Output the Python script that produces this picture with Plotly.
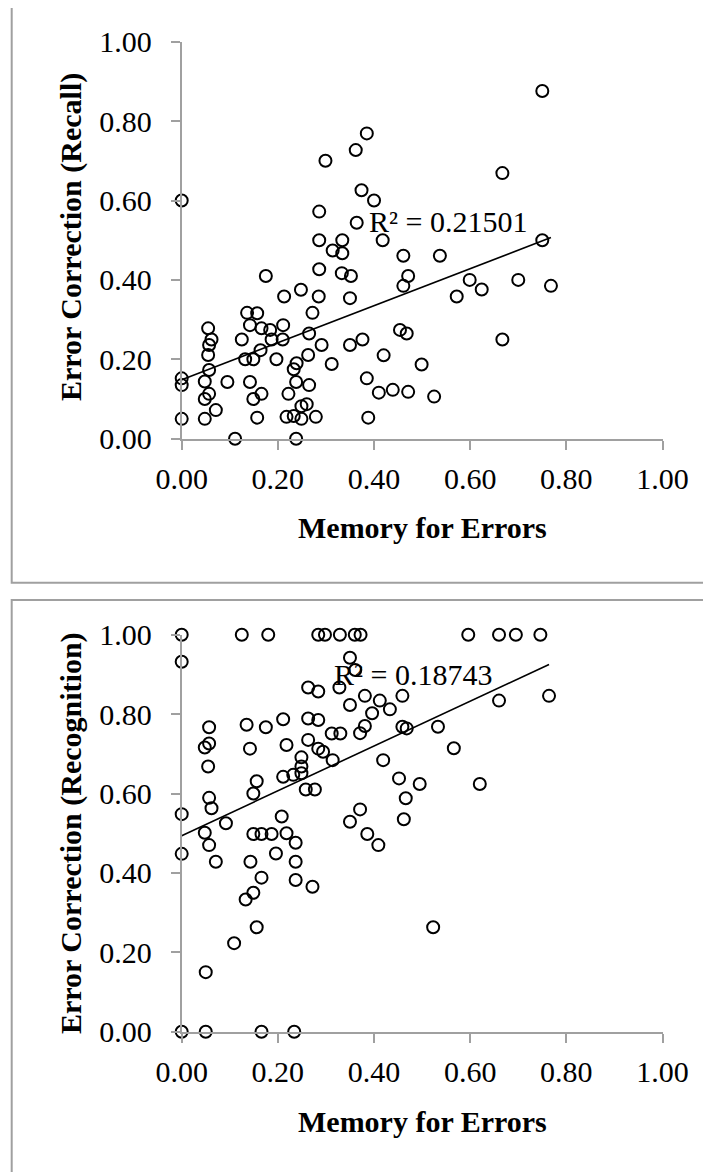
import numpy as np
import plotly.graph_objects as go

# ---------------- data ----------------
recall_x = [0.000, 0.000, 0.000, 0.000, 0.048, 0.048, 0.057, 0.048, 0.057, 0.055,
            0.057, 0.062, 0.055, 0.071, 0.095, 0.111, 0.125, 0.136, 0.142, 0.132,
            0.149, 0.142, 0.149, 0.166, 0.157, 0.157, 0.166, 0.164, 0.175, 0.184,
            0.187, 0.197, 0.211, 0.210, 0.213, 0.222, 0.218, 0.233, 0.233, 0.239,
            0.238, 0.238, 0.249, 0.260, 0.249, 0.248, 0.263, 0.265, 0.265, 0.272,
            0.279, 0.286, 0.285, 0.286, 0.286, 0.291, 0.299, 0.312, 0.314, 0.334,
            0.334, 0.333, 0.352, 0.350, 0.350, 0.362, 0.364, 0.376, 0.374, 0.385,
            0.385, 0.388, 0.400, 0.418, 0.420, 0.410, 0.439, 0.471, 0.525, 0.499,
            0.750, 0.667, 0.750, 0.461, 0.537, 0.471, 0.461, 0.599, 0.624, 0.700,
            0.768, 0.572, 0.454, 0.468, 0.667]
recall_y = [0.600, 0.152, 0.135, 0.050, 0.050, 0.100, 0.113, 0.144, 0.173, 0.211,
            0.236, 0.250, 0.278, 0.072, 0.143, 0.000, 0.250, 0.317, 0.286, 0.200,
            0.200, 0.143, 0.100, 0.113, 0.053, 0.316, 0.278, 0.223, 0.410, 0.274,
            0.250, 0.200, 0.286, 0.250, 0.358, 0.113, 0.055, 0.057, 0.175, 0.190,
            0.143, 0.000, 0.082, 0.087, 0.050, 0.375, 0.211, 0.265, 0.135, 0.317,
            0.055, 0.427, 0.358, 0.500, 0.572, 0.236, 0.700, 0.188, 0.474, 0.500,
            0.467, 0.417, 0.410, 0.354, 0.236, 0.727, 0.544, 0.250, 0.626, 0.769,
            0.152, 0.053, 0.600, 0.500, 0.210, 0.116, 0.123, 0.118, 0.106, 0.187,
            0.876, 0.669, 0.500, 0.461, 0.461, 0.410, 0.385, 0.400, 0.376, 0.400,
            0.385, 0.358, 0.274, 0.265, 0.250]

recog_x = [0.000, 0.000, 0.000, 0.000, 0.125, 0.180, 0.284, 0.298, 0.329, 0.360,
           0.372, 0.350, 0.328, 0.263, 0.284, 0.350, 0.381, 0.412, 0.433, 0.459,
           0.396, 0.381, 0.371, 0.459, 0.468, 0.312, 0.330, 0.263, 0.284, 0.211,
           0.175, 0.135, 0.057, 0.057, 0.048, 0.055, 0.142, 0.218, 0.263, 0.284,
           0.294, 0.314, 0.249, 0.249, 0.249, 0.232, 0.211, 0.156, 0.149, 0.258,
           0.277, 0.419, 0.452, 0.495, 0.466, 0.462, 0.371, 0.350, 0.386, 0.409,
           0.057, 0.062, 0.092, 0.048, 0.057, 0.071, 0.149, 0.166, 0.187, 0.208,
           0.218, 0.237, 0.196, 0.143, 0.237, 0.166, 0.237, 0.272, 0.149, 0.133,
           0.156, 0.109, 0.050, 0.523, 0.000, 0.050, 0.166, 0.234, 0.596, 0.660,
           0.695, 0.746, 0.764, 0.660, 0.533, 0.566, 0.620, 0.361]
recog_y = [1.000, 0.932, 0.548, 0.448, 1.000, 1.000, 1.000, 1.000, 1.000, 1.000,
           1.000, 0.942, 0.867, 0.867, 0.857, 0.823, 0.846, 0.834, 0.812, 0.846,
           0.802, 0.770, 0.752, 0.768, 0.764, 0.751, 0.751, 0.789, 0.785, 0.787,
           0.767, 0.773, 0.767, 0.726, 0.716, 0.668, 0.713, 0.722, 0.735, 0.713,
           0.705, 0.684, 0.691, 0.668, 0.651, 0.647, 0.642, 0.631, 0.600, 0.610,
           0.610, 0.684, 0.638, 0.624, 0.588, 0.535, 0.560, 0.529, 0.498, 0.470,
           0.589, 0.563, 0.525, 0.501, 0.470, 0.428, 0.498, 0.498, 0.498, 0.542,
           0.500, 0.476, 0.449, 0.428, 0.428, 0.388, 0.382, 0.365, 0.350, 0.333,
           0.263, 0.223, 0.150, 0.263, 0.000, 0.000, 0.000, 0.000, 1.000, 1.000,
           1.000, 1.000, 0.846, 0.834, 0.768, 0.714, 0.624, 0.911]

tick_vals = [0.0, 0.2, 0.4, 0.6, 0.8, 1.0]
tick_text = ["0.00", "0.20", "0.40", "0.60", "0.80", "1.00"]

x_title = "Memory for Errors"
y_title_top = "Error Correction (Recall)"
y_title_bottom = "Error Correction (Recognition)"
r2_top = "R² = 0.21501"
r2_bottom = "R² = 0.18743"

# ---------------- figure ----------------
W, H = 711, 1172
PAGE_OFFSET = 8  # default body margin of the html page
SERIF = "Liberation Serif, Times New Roman, serif"
AXIS_GRAY = "#a0a0a0"

fig = go.Figure()


def trend(xs, ys):
    slope, icpt = np.polyfit(np.array(xs), np.array(ys), 1)
    lx = np.array([min(xs), max(xs)])
    return lx, icpt + slope * lx


for xs, ys, xa, ya in [(recall_x, recall_y, "x", "y"), (recog_x, recog_y, "x2", "y2")]:
    lx, ly = trend(xs, ys)
    fig.add_trace(go.Scatter(x=lx, y=ly, mode="lines", xaxis=xa, yaxis=ya,
                             line=dict(color="black", width=1.6), hoverinfo="skip",
                             cliponaxis=False))
    fig.add_trace(go.Scatter(x=xs, y=ys, mode="markers", xaxis=xa, yaxis=ya,
                             cliponaxis=False,
                             marker=dict(symbol="circle-open", size=12, color="black",
                                         line=dict(width=2, color="black"))))


def px_x(p):
    return (p - PAGE_OFFSET) / W


def px_y(p):
    return 1 - (p - PAGE_OFFSET) / H


x_dom = [px_x(181.7), px_x(662.5)]
top_dom = [px_y(438.7), px_y(41.7)]
bot_dom = [px_y(1031.7), px_y(634.7)]

axis_common = dict(range=[0, 1], tickvals=tick_vals, ticktext=tick_text,
                   showgrid=False, zeroline=False, showline=True, automargin=False,
                   linecolor=AXIS_GRAY, linewidth=2, ticks="outside",
                   ticklen=9, tickwidth=2, tickcolor=AXIS_GRAY,
                   tickfont=dict(family=SERIF, size=30, color="black"),
                   fixedrange=True)

fig.update_layout(
    template="none",
    width=W, height=H, autosize=False,
    margin=dict(l=0, r=0, t=0, b=0, pad=0),
    paper_bgcolor="white", plot_bgcolor="white",
    showlegend=False,
    xaxis=dict(domain=x_dom, anchor="y", ticklabelstandoff=3, **axis_common),
    yaxis=dict(domain=top_dom, anchor="x", ticklabelstandoff=13, **axis_common),
    xaxis2=dict(domain=x_dom, anchor="y2", ticklabelstandoff=3, **axis_common),
    yaxis2=dict(domain=bot_dom, anchor="x2", ticklabelstandoff=13, **axis_common),
)

title_font = dict(family=SERIF, size=30, color="black", weight="bold")
annotations = [
    dict(text=x_title, xref="paper", yref="paper", x=px_x(422), y=px_y(527),
         xanchor="center", yanchor="middle", showarrow=False, font=title_font),
    dict(text=x_title, xref="paper", yref="paper", x=px_x(422), y=px_y(1121),
         xanchor="center", yanchor="middle", showarrow=False, font=title_font),
    dict(text=y_title_top, xref="paper", yref="paper", x=px_x(71), y=px_y(237),
         xanchor="center", yanchor="middle", textangle=-90, showarrow=False,
         font=title_font),
    dict(text=y_title_bottom, xref="paper", yref="paper", x=px_x(71), y=px_y(833),
         xanchor="center", yanchor="middle", textangle=-90, showarrow=False,
         font=title_font),
    dict(text=r2_top, xref="x", yref="y", x=0.553, y=0.547,
         xanchor="center", yanchor="middle", showarrow=False,
         font=dict(family=SERIF, size=30, color="black")),
    dict(text=r2_bottom, xref="x2", yref="y2", x=0.481, y=0.900,
         xanchor="center", yanchor="middle", showarrow=False,
         font=dict(family=SERIF, size=30, color="black")),
]
fig.update_layout(annotations=annotations)

# chart-area borders
fig.add_shape(type="rect", xref="paper", yref="paper",
              x0=px_x(11.7), x1=1.05, y0=px_y(582.7), y1=px_y(6.7),
              line=dict(color=AXIS_GRAY, width=2), layer="below")
fig.add_shape(type="rect", xref="paper", yref="paper",
              x0=px_x(11.7), x1=1.05, y0=-0.05, y1=px_y(600),
              line=dict(color=AXIS_GRAY, width=2), layer="below")

fig.write_html("out.html")
